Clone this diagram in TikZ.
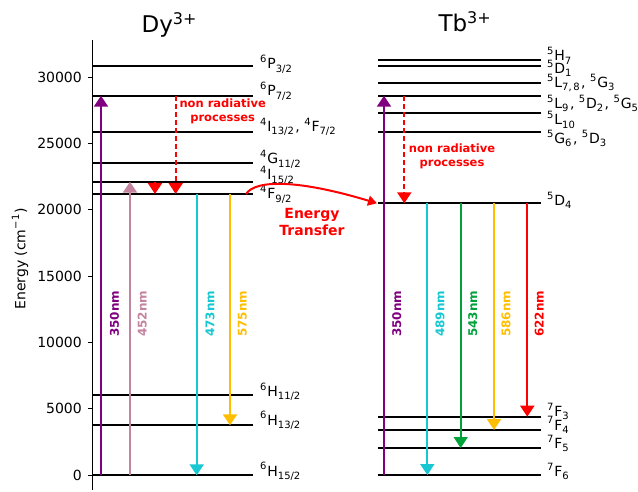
\documentclass[tikz,border=0pt]{standalone}
\usepackage{fontspec}
\setmainfont{DejaVu Sans}
\usetikzlibrary{arrows.meta}
\newcommand\lsup[1]{\raisebox{6.2pt}{\fontsize{10}{10}\selectfont #1}\kern0.8pt}
\newcommand\lsub[1]{\raisebox{-3.2pt}{\fontsize{10}{10}\selectfont #1}\kern1.5pt}
\newcommand\tsup[1]{\raisebox{8pt}{\fontsize{16}{16}\selectfont #1}}
\definecolor{cPurple}{HTML}{800080}
\definecolor{cPink}{HTML}{C4849F}
\definecolor{cCyan}{HTML}{17C8D2}
\definecolor{cYellow}{HTML}{FFBF00}
\definecolor{cGreen}{HTML}{00A23A}
\definecolor{cRed}{HTML}{FF0000}
\begin{document}
\begin{tikzpicture}[x=1pt,y=-1pt,
  level/.style={line width=2pt,black},
  lvllabel/.style={anchor=base west,inner sep=0pt,font=\fontsize{14}{16}\selectfont},
  arr/.style={line width=2pt,-{Triangle[width=14pt,length=11pt]}},
  nrarr/.style={line width=2pt,cRed,dash pattern=on 5.5pt off 2.5pt,-{Triangle[width=14pt,length=11pt]}},
  nmlabel/.style={rotate=90,anchor=west,inner sep=0pt,font=\fontsize{12}{14}\selectfont\bfseries},
  nrtext/.style={align=center,inner sep=0pt,text=cRed,font=\fontsize{11.5}{13.7}\selectfont\bfseries},
  ticklabel/.style={anchor=east,inner sep=0pt,font=\fontsize{14}{16}\selectfont},
  title/.style={anchor=base,inner sep=0pt,font=\fontsize{23}{26}\selectfont}]
\useasboundingbox (0,0) rectangle (638,492);

% axis
\coordinate (axT) at (92.7,40);
\coordinate (axB) at (92.7,490);
\draw[line width=1pt] (axT) -- (axB);
\foreach \e/\yy in {0/475,5000/408.7,10000/342.4,15000/276.1,20000/209.9,25000/143.6,30000/77.3}{
  \draw[line width=1pt] (88,\yy) -- (92.7,\yy);
  \node[ticklabel] (t\e) at (82,\yy) {\e};
}
\node[rotate=90,inner sep=0pt,font=\fontsize{14}{16}\selectfont] (ylab) at (20,259) {Energy (cm\lsup{−1})};

% titles
\node[title] (dytitle) at (169,32.5) {Dy\tsup{3+}};
\node[title] (tbtitle) at (464.7,31.5) {Tb\tsup{3+}};

% Dy levels
\foreach \yy in {66,95.7,131.7,163.3,181.7,194,394.7,425.3,475.3}{
  \draw[level] (92.7,\yy) -- (253,\yy);
}
\node[lvllabel] (dyl1) at (260,69) {\lsup{6}P\lsub{3/2}};
\node[lvllabel] (dyl2) at (260,96) {\lsup{6}P\lsub{7/2}};
\node[lvllabel] (dyl3) at (260,131.7) {\lsup{4}I\lsub{13/2}, \lsup{4}F\lsub{7/2}};
\node[lvllabel] (dyl4) at (260,164) {\lsup{4}G\lsub{11/2}};
\node[lvllabel] (dyl5) at (260,180) {\lsup{4}I\lsub{15/2}};
\node[lvllabel] (dyl6) at (260,199) {\lsup{4}F\lsub{9/2}};
\node[lvllabel] (dyl7) at (260,396.7) {\lsup{6}H\lsub{11/2}};
\node[lvllabel] (dyl8) at (260,425) {\lsup{6}H\lsub{13/2}};
\node[lvllabel] (dyl9) at (260,476) {\lsup{6}H\lsub{15/2}};

% Tb levels
\foreach \yy in {60,66,83.3,95.7,113.3,132.3,203.3,416.7,430,448,475}{
  \draw[level] (378.3,\yy) -- (540.7,\yy);
}
\node[lvllabel] (tbl1) at (547,61) {\lsup{5}H\lsub{7}};
\node[lvllabel] (tbl2) at (547,73.3) {\lsup{5}D\lsub{1}};
\node[lvllabel] (tbl3) at (547,87.3) {\lsup{5}L\lsub{7,\,8}, \lsup{5}G\lsub{3}};
\node[lvllabel] (tbl4) at (547,108.3) {\lsup{5}L\lsub{9}, \lsup{5}D\lsub{2}, \lsup{5}G\lsub{5}};
\node[lvllabel] (tbl5) at (547,125) {\lsup{5}L\lsub{10}};
\node[lvllabel] (tbl6) at (547,143.3) {\lsup{5}G\lsub{6}, \lsup{5}D\lsub{3}};
\node[lvllabel] (tbl7) at (547,205.7) {\lsup{5}D\lsub{4}};
\node[lvllabel] (tbl8) at (547,416.7) {\lsup{7}F\lsub{3}};
\node[lvllabel] (tbl9) at (547,430) {\lsup{7}F\lsub{4}};
\node[lvllabel] (tbl10) at (547,448.3) {\lsup{7}F\lsub{5}};
\node[lvllabel] (tbl11) at (547,476.7) {\lsup{7}F\lsub{6}};

% Dy arrows
\coordinate (dyPa) at (101,475.3);  \coordinate (dyPb) at (101,95.7);
\coordinate (dyKa) at (130,475.3);  \coordinate (dyKb) at (130,181.7);
\coordinate (dyCa) at (196.7,194);  \coordinate (dyCb) at (196.7,475.3);
\coordinate (dyYa) at (230,194);    \coordinate (dyYb) at (230,425.3);
\coordinate (dyNa) at (175.7,95.7); \coordinate (dyNb) at (175.7,194);
\coordinate (dySa) at (155,181.7);  \coordinate (dySb) at (155,194);
\draw[arr,cPurple] (dyPa) -- (dyPb);
\draw[arr,cPink] (dyKa) -- (dyKb);
\draw[arr,cCyan] (dyCa) -- (dyCb);
\draw[arr,cYellow] (dyYa) -- (dyYb);
\draw[nrarr] (dyNa) -- (dyNb);
\draw[line width=2pt,cRed,-{Triangle[width=14pt,length=11pt]}] (dySa) -- (dySb);
\node[nmlabel,text=cPurple] (dym1) at (114.5,337) {350nm};
\node[nmlabel,text=cPink] (dym2) at (142.3,337) {452nm};
\node[nmlabel,text=cCyan] (dym3) at (210,337) {473nm};
\node[nmlabel,text=cYellow] (dym4) at (242.3,337) {575nm};
\node[nrtext] (dynr) at (222.7,111) {non radiative\\processes};

% Tb arrows
\coordinate (tbPa) at (384,475);   \coordinate (tbPb) at (384,95.7);
\coordinate (tbCa) at (427.3,203.3); \coordinate (tbCb) at (427.3,475);
\coordinate (tbGa) at (460.7,203.3); \coordinate (tbGb) at (460.7,448);
\coordinate (tbYa) at (494,203.3);   \coordinate (tbYb) at (494,430);
\coordinate (tbRa) at (527.3,203.3); \coordinate (tbRb) at (527.3,416.7);
\coordinate (tbNa) at (404.3,95.7);  \coordinate (tbNb) at (404.3,203.3);
\draw[arr,cPurple] (tbPa) -- (tbPb);
\draw[arr,cCyan] (tbCa) -- (tbCb);
\draw[arr,cGreen] (tbGa) -- (tbGb);
\draw[arr,cYellow] (tbYa) -- (tbYb);
\draw[arr,cRed] (tbRa) -- (tbRb);
\draw[nrarr] (tbNa) -- (tbNb);
\node[nmlabel,text=cPurple] (tbm1) at (396.7,337) {350nm};
\node[nmlabel,text=cCyan] (tbm2) at (440,337) {489nm};
\node[nmlabel,text=cGreen] (tbm3) at (472.7,337) {543nm};
\node[nmlabel,text=cYellow] (tbm4) at (506,337) {586nm};
\node[nmlabel,text=cRed] (tbm5) at (539.3,337) {622nm};
\node[nrtext] (tbnr) at (452,156) {non radiative\\processes};

% Energy transfer
\coordinate (etA) at (246,194);
\coordinate (etB) at (377,203.3);
\draw[line width=2pt,cRed,-{Triangle[width=10pt,length=9pt]}] (etA) .. controls (256,179) and (300,180) .. (etB);
\node[align=center,inner sep=0pt,text=cRed,font=\fontsize{14}{17}\selectfont\bfseries] (ettext) at (312,221.5) {Energy\\Transfer};
\end{tikzpicture}
\end{document}
